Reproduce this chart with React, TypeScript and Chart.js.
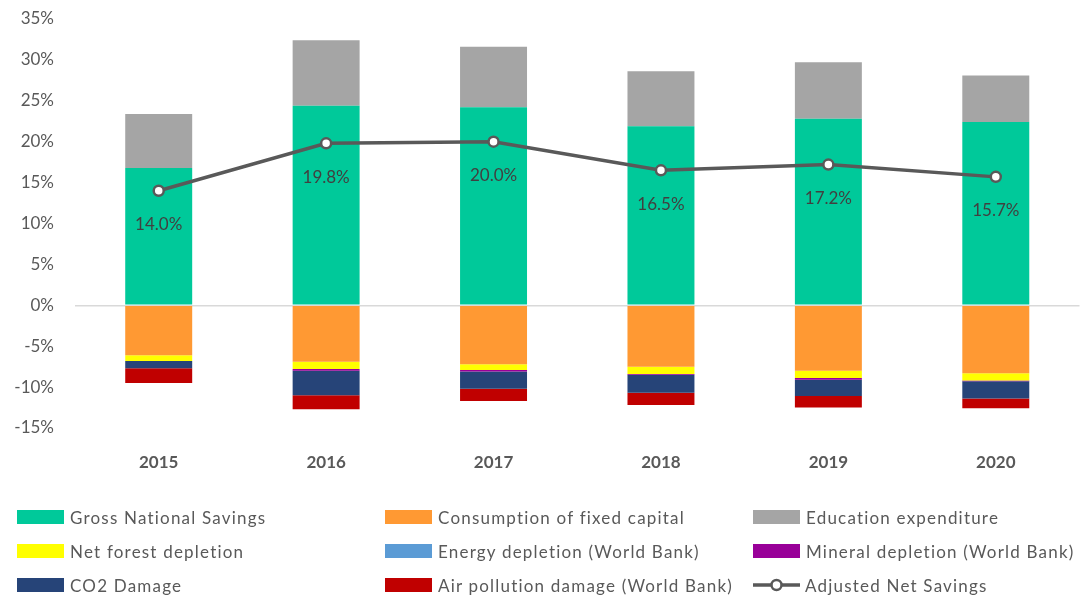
import React, { useEffect, useRef } from "react";
import { Chart, registerables } from "chart.js";

Chart.register(...registerables);

const years = ["2015", "2016", "2017", "2018", "2019", "2020"];
const grossNationalSavings = [16.8, 24.4, 24.2, 21.9, 22.8, 22.4];
const educationExpenditure = [6.6, 8.0, 7.4, 6.7, 6.9, 5.7];
const consumptionFixedCapital = [-6.1, -6.9, -7.2, -7.5, -8.0, -8.3];
const netForestDepletion = [-0.7, -0.9, -0.7, -0.9, -0.9, -0.9];
const energyDepletion = [0, 0, 0, 0, 0, 0];
const mineralDepletion = [0, -0.2, -0.2, -0.1, -0.2, -0.1];
const co2Damage = [-0.9, -3.0, -2.1, -2.2, -2.0, -2.1];
const airPollutionDamage = [-1.8, -1.7, -1.5, -1.5, -1.4, -1.2];
const adjustedNetSavings = [14.0, 19.8, 20.0, 16.5, 17.2, 15.7];
const yTicks = [-15, -10, -5, 0, 5, 10, 15, 20, 25, 30, 35];

const FONT = "Lato, 'Open Sans', sans-serif";
const TEXT = "#595959";

const legendItems = [
  { label: "Gross National Savings", color: "#00c99a" },
  { label: "Consumption of fixed capital", color: "#ff9933" },
  { label: "Education expenditure", color: "#a5a5a5" },
  { label: "Net forest depletion", color: "#ffff00" },
  { label: "Energy depletion (World Bank)", color: "#5b9bd5" },
  { label: "Mineral depletion (World Bank)", color: "#990099" },
  { label: "CO2 Damage", color: "#264478" },
  { label: "Air pollution damage (World Bank)", color: "#c00000" },
  { label: "Adjusted Net Savings", color: "line" },
];

export default function App() {
  const ref = useRef<HTMLCanvasElement | null>(null);

  useEffect(() => {
    if (!ref.current) return;
    const bar = (label: string, data: number[], color: string) => ({
      type: "bar" as const,
      label,
      data,
      backgroundColor: color,
      borderWidth: 0,
      stack: "s",
      order: 2,
      barPercentage: 0.8,
      categoryPercentage: 0.5,
    });
    const labelPlugin = {
      id: "lineLabels",
      afterDatasetsDraw(chart: any) {
        const ctx = chart.ctx;
        const meta = chart.getDatasetMeta(8);
        ctx.save();
        ctx.font = `17px ${FONT}`;
        ctx.fillStyle = "#404040";
        ctx.textAlign = "center";
        ctx.textBaseline = "middle";
        meta.data.forEach((pt: any, i: number) => {
          ctx.fillText(adjustedNetSavings[i].toFixed(1) + "%", pt.x, pt.y + 34);
        });
        ctx.restore();
      },
    };
    const chart = new Chart(ref.current, {
      type: "bar",
      data: {
        labels: years,
        datasets: [
          bar("Gross National Savings", grossNationalSavings, "#00c99a"),
          bar("Consumption of fixed capital", consumptionFixedCapital, "#ff9933"),
          bar("Education expenditure", educationExpenditure, "#a5a5a5"),
          bar("Net forest depletion", netForestDepletion, "#ffff00"),
          bar("Energy depletion (World Bank)", energyDepletion, "#5b9bd5"),
          bar("Mineral depletion (World Bank)", mineralDepletion, "#990099"),
          bar("CO2 Damage", co2Damage, "#264478"),
          bar("Air pollution damage (World Bank)", airPollutionDamage, "#c00000"),
          {
            type: "line" as const,
            label: "Adjusted Net Savings",
            data: adjustedNetSavings,
            borderColor: "#595959",
            borderWidth: 3.5,
            pointRadius: 5,
            pointBackgroundColor: "#ffffff",
            pointBorderColor: "#595959",
            pointBorderWidth: 2.5,
            stack: "line",
            order: 0,
          } as any,
        ],
      },
      options: {
        animation: false,
        responsive: false,
        maintainAspectRatio: false,
        layout: { padding: { top: 19, right: 2, left: 0, bottom: 0 } },
        plugins: { legend: { display: false }, tooltip: { enabled: false } },
        scales: {
          x: {
            stacked: true,
            grid: { display: false, drawTicks: false },
            border: { display: false },
            ticks: { color: TEXT, font: { family: FONT, size: 17, weight: "bold" }, padding: 24 },
            afterFit: (s: any) => { s.height = 169; },
          },
          y: {
            stacked: true,
            min: -15,
            max: 35,
            afterBuildTicks: (s: any) => { s.ticks = yTicks.map((v) => ({ value: v })); },
            grid: {
              drawTicks: true,
              tickLength: 19,
              tickColor: "rgba(0,0,0,0)",
              lineWidth: 1.5,
              color: (c: any) => (c.tick && c.tick.value === 0 ? "#d9d9d9" : "rgba(0,0,0,0)"),
            },
            border: { display: false },
            ticks: {
              color: TEXT,
              font: { family: FONT, size: 17 },
              padding: 2,
              callback: (v: any) => v + "%",
            },
            afterFit: (s: any) => { s.width = 75; },
          },
        },
      },
      plugins: [labelPlugin],
    });
    return () => chart.destroy();
  }, []);

  const cols = [17, 385, 753];
  const rows = [517, 551, 585];
  return (
    <div style={{ position: "fixed", left: 0, top: 0, width: 1087, height: 597, background: "#fff" }}>
      <canvas ref={ref} width={1087} height={597} style={{ position: "absolute", left: 0, top: 0 }} />
      {legendItems.map((it, i) => {
        const x = cols[i % 3];
        const y = rows[Math.floor(i / 3)];
        return (
          <div
            key={it.label}
            style={{
              position: "absolute",
              left: x,
              top: y - 12,
              height: 24,
              display: "flex",
              alignItems: "center",
              fontFamily: FONT,
              fontSize: 17,
              letterSpacing: "1.2px",
              color: TEXT,
              whiteSpace: "nowrap",
            }}
          >
            {it.color === "line" ? (
              <svg width={47} height={16} style={{ marginRight: 5 }}>
                <line x1={0} y1={8} x2={47} y2={8} stroke="#595959" strokeWidth={3.5} />
                <circle cx={23.5} cy={8} r={5} fill="#fff" stroke="#595959" strokeWidth={2.5} />
              </svg>
            ) : (
              <div style={{ width: 47, height: 14, background: it.color, marginRight: 6 }} />
            )}
            <span>{it.label}</span>
          </div>
        );
      })}
    </div>
  );
}
